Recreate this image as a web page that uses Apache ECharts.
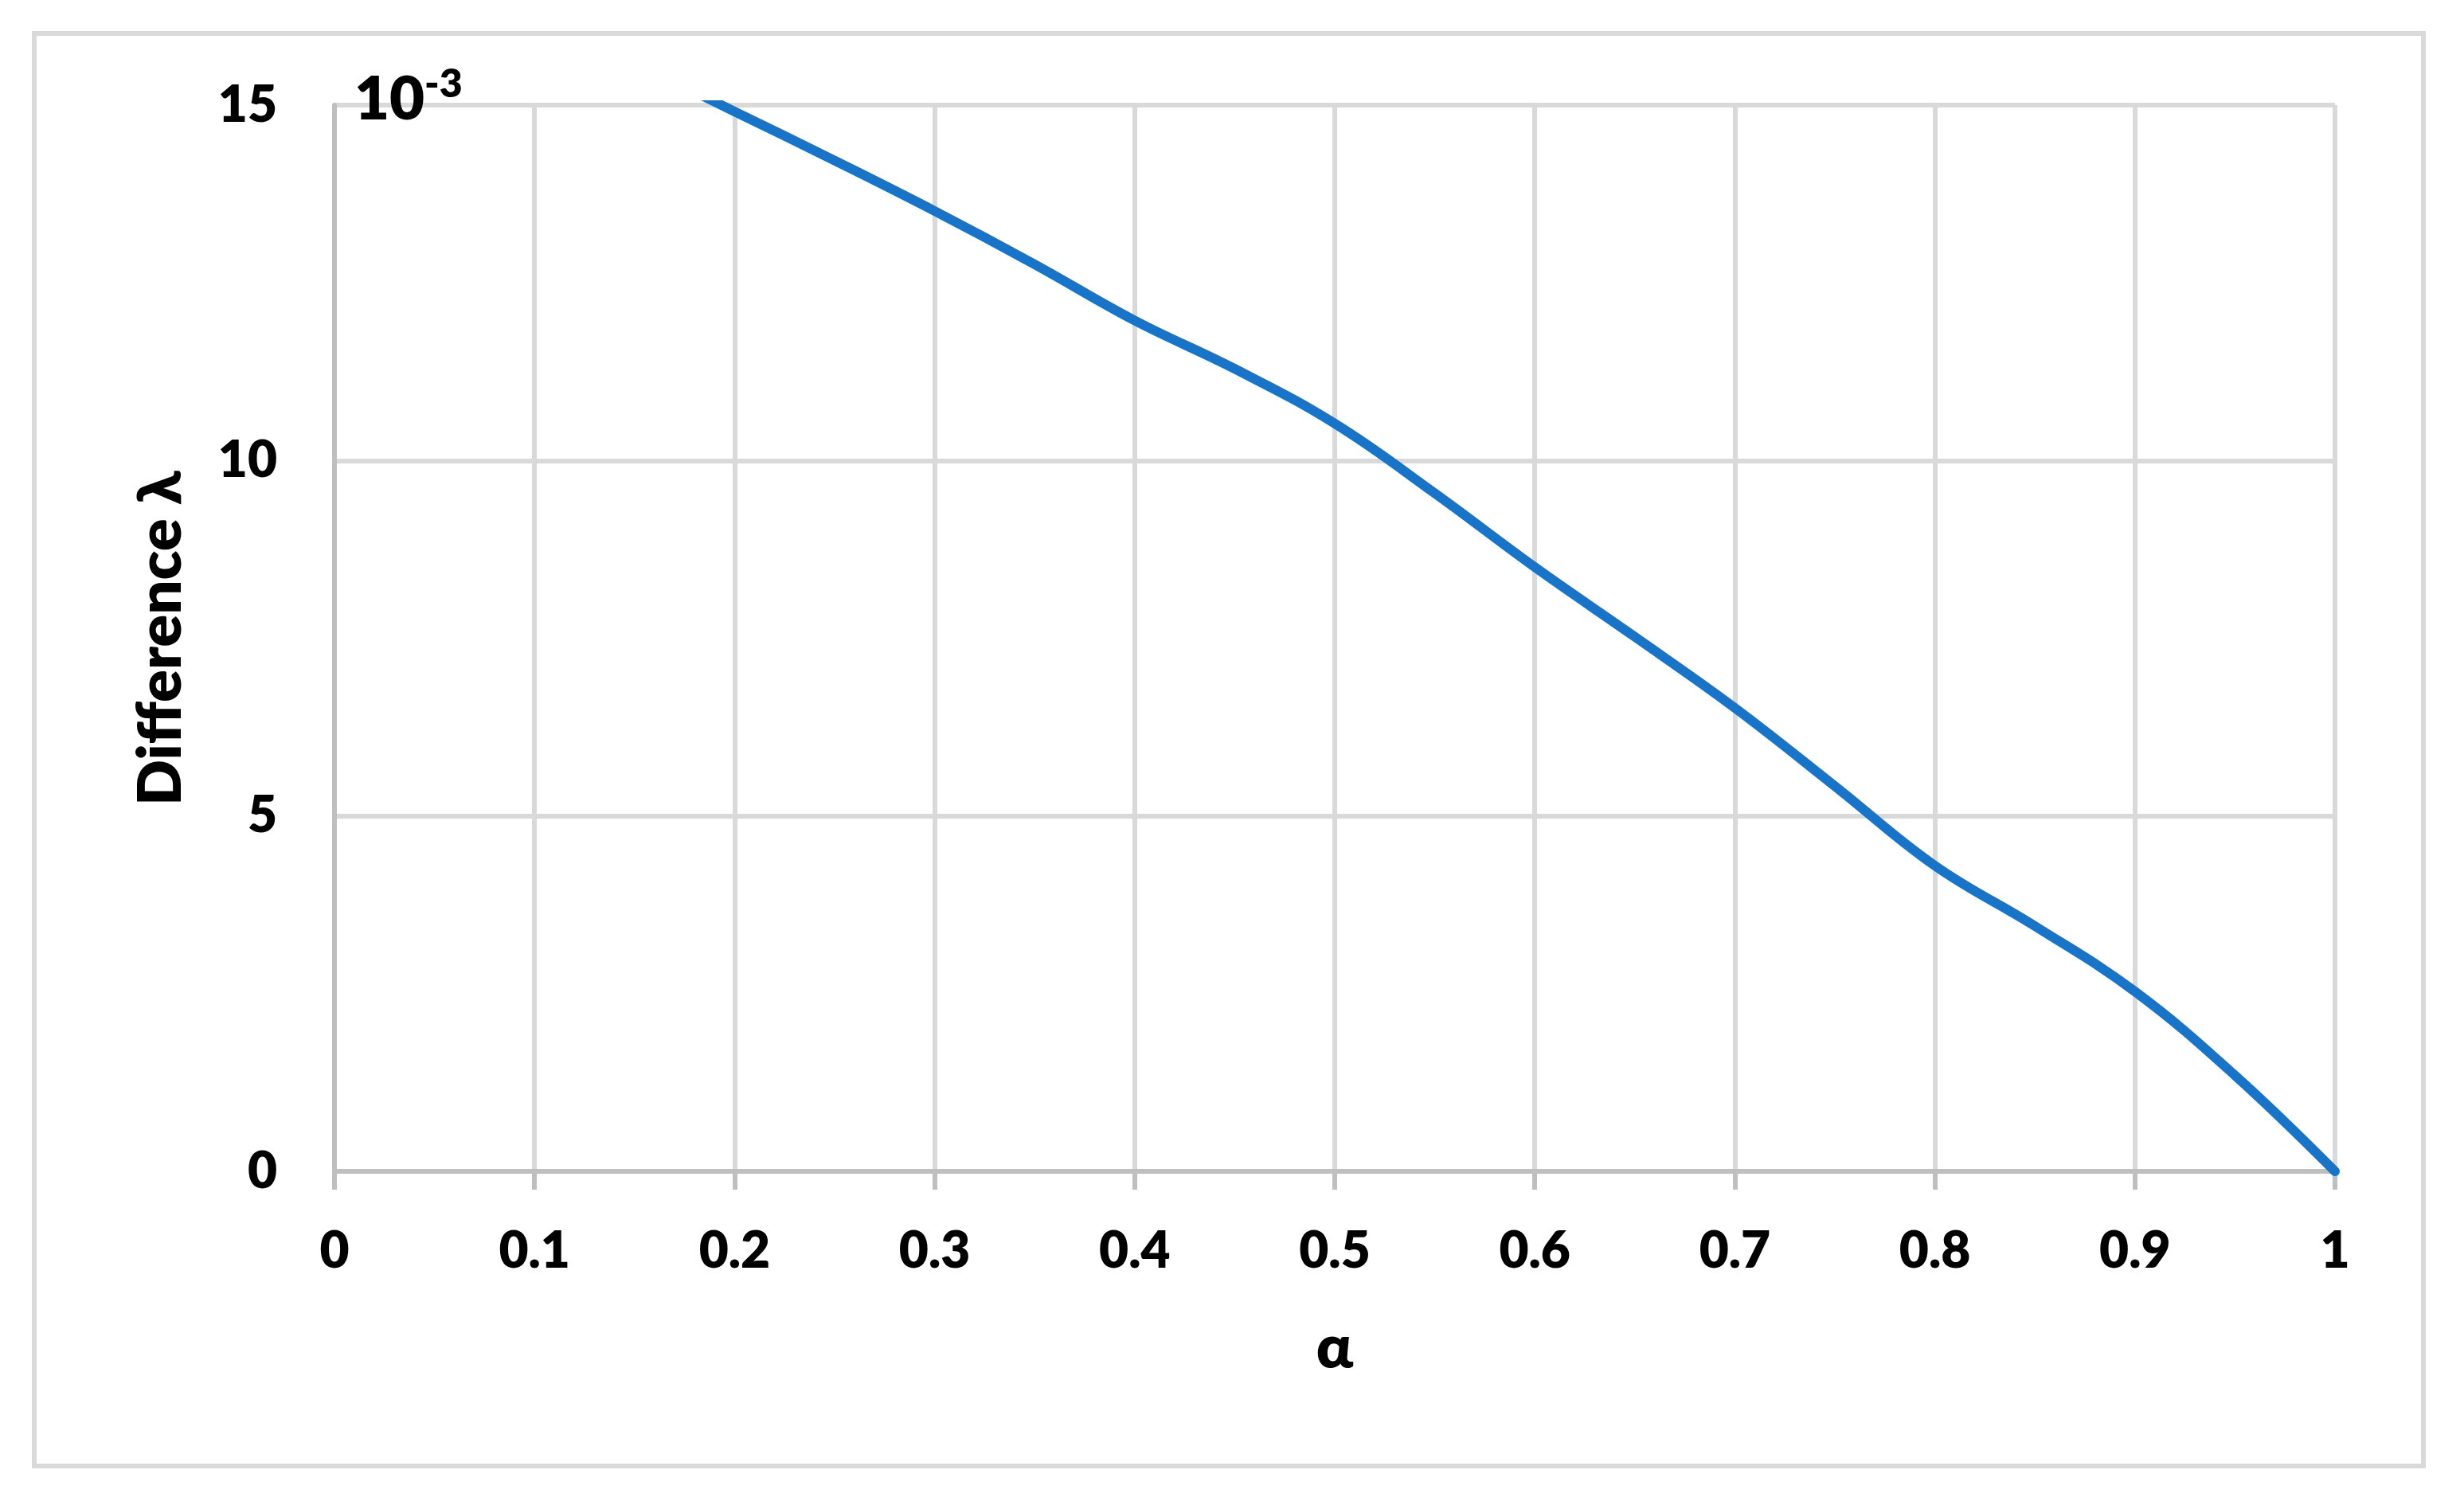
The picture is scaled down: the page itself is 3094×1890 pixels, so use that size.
<!DOCTYPE html>
<html>
<head>
<meta charset="UTF-8">
<title>Difference λ vs α</title>
<script src="https://cdn.jsdelivr.net/npm/echarts@6/dist/echarts.min.js"></script>
<style>html,body{margin:0;padding:0;background:#fff;}</style>
</head>
<body>
<div id="chart" style="width:3094px;height:1890px;"></div>
<script>
    // values (y in units of 10^-3)
    var alphaVals = [0.1, 0.15, 0.2, 0.25, 0.3, 0.35, 0.4, 0.45, 0.5, 0.55, 0.6, 0.65, 0.7, 0.75, 0.8, 0.85, 0.9, 0.95, 1.0];
    var diffVals  = [16.3, 15.6, 14.91, 14.22, 13.51, 12.76, 11.97, 11.29, 10.52, 9.54, 8.50, 7.52, 6.52, 5.42, 4.30, 3.45, 2.53, 1.35, 0];
    var xRange = [0, 1, 0.1];
    var yRange = [0, 15, 5];
    var xName = 'α';
    var yName = 'Difference λ';
    var scaleBase = '10';
    var scaleExp = '-3';

    var font = 'Lato, "Noto Sans", sans-serif';
    var weight = 800;
    var chart = echarts.init(document.getElementById('chart'));

    var points = [];
    for (var i = 0; i < alphaVals.length; i++) {
        points.push([alphaVals[i], diffVals[i]]);
    }

    var option = {
        backgroundColor: '#fff',
        animation: false,
        grid: {left: 420, right: 162, top: 132, bottom: 419},
        xAxis: {
            type: 'value',
            min: xRange[0], max: xRange[1], interval: xRange[2],
            name: xName,
            nameLocation: 'middle',
            nameGap: 184,
            nameTextStyle: {fontFamily: font, fontWeight: weight, fontSize: 76, color: '#000'},
            axisLine: {show: true, lineStyle: {color: '#bfbfbf', width: 6}},
            axisTick: {show: true, length: 23, lineStyle: {color: '#bfbfbf', width: 6}},
            axisLabel: {fontFamily: font, fontWeight: weight, fontSize: 64, color: '#000', margin: 68,
                showMinLabel: true, showMaxLabel: true},
            splitLine: {show: true, lineStyle: {color: '#d9d9d9', width: 6}}
        },
        yAxis: {
            type: 'value',
            min: yRange[0], max: yRange[1], interval: yRange[2],
            name: yName,
            nameLocation: 'middle',
            nameGap: 180,
            nameTextStyle: {fontFamily: font, fontWeight: weight, fontSize: 76, color: '#000'},
            axisLine: {show: true, lineStyle: {color: '#bfbfbf', width: 6}},
            axisTick: {show: false},
            axisLabel: {fontFamily: font, fontWeight: weight, fontSize: 64, color: '#000', margin: 72},
            splitLine: {show: true, lineStyle: {color: '#d9d9d9', width: 6}}
        },
        graphic: [
            {
                type: 'rect', z: -1, silent: true,
                shape: {x: 43, y: 42, width: 3000, height: 1799},
                style: {fill: 'none', stroke: '#d9d9d9', lineWidth: 6}
            },
            {
                type: 'text', z: 100, left: 445, top: 87,
                style: {text: scaleBase, font: weight + ' 76px ' + font, fill: '#000'}
            },
            {
                type: 'text', z: 100, left: 533, top: 81,
                style: {text: scaleExp, font: weight + ' 50px ' + font, fill: '#000'}
            }
        ],
        series: [{
            type: 'line',
            data: points,
            smooth: 0.4,
            showSymbol: false,
            clip: true,
            lineStyle: {color: '#1874c9', width: 12, cap: 'round'}
        }]
    };

    chart.setOption(option);
</script>
</body>
</html>
